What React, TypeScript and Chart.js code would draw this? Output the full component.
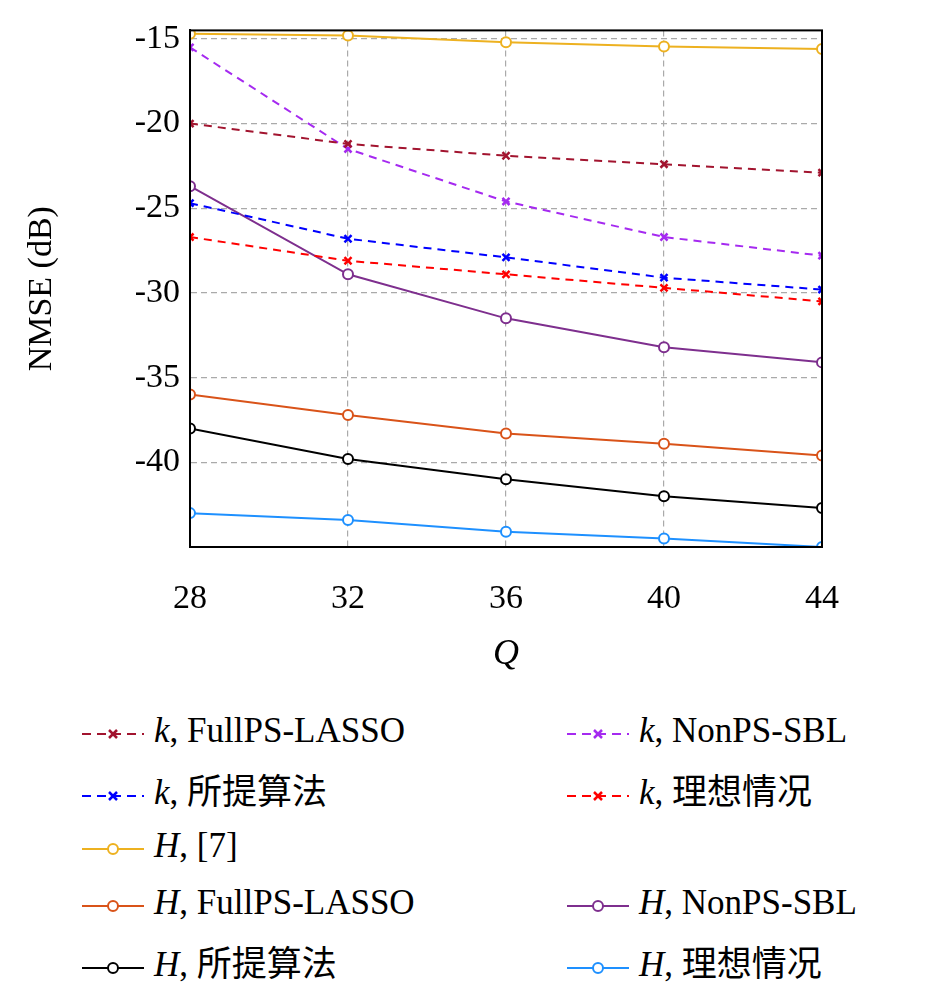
import React, { useEffect, useRef } from "react";
import { Chart, registerables } from "chart.js";
Chart.register(...registerables);

const qValues = [28, 32, 36, 40, 44];
const yTicks = [-15, -20, -25, -30, -35, -40];
const kFullPS = [-20.0, -21.2, -21.9, -22.4, -22.9];
const kNonPS = [-15.5, -21.5, -24.6, -26.7, -27.8];
const kProposed = [-24.7, -26.8, -27.9, -29.1, -29.8];
const kIdeal = [-26.7, -28.1, -28.9, -29.7, -30.5];
const hRef7 = [-14.7, -14.8, -15.2, -15.45, -15.6];
const hFullPS = [-36.0, -37.2, -38.3, -38.9, -39.6];
const hNonPS = [-23.7, -28.9, -31.5, -33.2, -34.1];
const hProposed = [-38.0, -39.8, -41.0, -42.0, -42.7];
const hIdeal = [-43.0, -43.4, -44.1, -44.5, -45.0];

type S = { v: string; name: string; data: number[]; color: string; dashed: boolean };
const series: S[] = [
  { v: "k", name: "FullPS-LASSO", data: kFullPS, color: "#A2142F", dashed: true },
  { v: "k", name: "NonPS-SBL", data: kNonPS, color: "#A52AF0", dashed: true },
  { v: "k", name: "所提算法", data: kProposed, color: "#0000FF", dashed: true },
  { v: "k", name: "理想情况", data: kIdeal, color: "#FF0000", dashed: true },
  { v: "H", name: "[7]", data: hRef7, color: "#EDB120", dashed: false },
  { v: "H", name: "FullPS-LASSO", data: hFullPS, color: "#D95319", dashed: false },
  { v: "H", name: "NonPS-SBL", data: hNonPS, color: "#7E2F8E", dashed: false },
  { v: "H", name: "所提算法", data: hProposed, color: "#000000", dashed: false },
  { v: "H", name: "理想情况", data: hIdeal, color: "#1E90FF", dashed: false },
];
const legendRows: (number | null)[][] = [[0, 1], [2, 3], [4, null], [5, 6], [7, 8]];

const FONT = "'Liberation Serif', 'DejaVu Serif', 'Noto Sans CJK SC', serif";

function Marker({ s }: { s: S }) {
  return (
    <svg width="66" height="24" style={{ verticalAlign: "middle" }}>
      <line x1="2" y1="12" x2="64" y2="12" stroke={s.color} strokeWidth="2"
        strokeDasharray={s.dashed ? "9 6" : undefined} />
      {s.dashed ? (
        <g stroke={s.color} strokeWidth="2.5">
          <line x1="29" y1="8" x2="37" y2="16" />
          <line x1="37" y1="8" x2="29" y2="16" />
        </g>
      ) : (
        <circle cx="33" cy="12" r="5" fill="white" stroke={s.color} strokeWidth="2" />
      )}
    </svg>
  );
}

export default function App() {
  const ref = useRef<HTMLCanvasElement>(null);
  useEffect(() => {
    const chart = new Chart(ref.current!, {
      type: "line",
      data: {
        labels: qValues.map(String),
        datasets: series.map((s) => ({
          label: s.v + ", " + s.name,
          data: s.data,
          borderColor: s.color,
          backgroundColor: "white",
          borderWidth: 2,
          borderDash: s.dashed ? [8, 6] : [],
          pointStyle: s.dashed ? "crossRot" : "circle",
          pointRadius: 5,
          pointBorderWidth: s.dashed ? 2.5 : 2,
          tension: 0,
        })),
      },
      options: {
        animation: false,
        responsive: false,
        layout: { padding: { top: -8, right: 123, left: 18, bottom: 0 } },
        plugins: { legend: { display: false }, tooltip: { enabled: false } },
        scales: {
          x: {
            type: "linear",
            min: 28,
            max: 44,
            afterFit: (sc: any) => { sc.height = 133; },
            afterBuildTicks: (sc: any) => { sc.ticks = qValues.map((v) => ({ value: v })); },
            ticks: { color: "#000", font: { family: FONT, size: 34 }, padding: 32 },
            grid: { color: "#aaa", lineWidth: 1.2, drawTicks: false },
            border: { color: "#000", width: 2, dash: [6, 4] },
            title: { display: true, text: "Q", color: "#000", font: { family: FONT, size: 36, style: "italic" }, padding: { top: 0 } },
          },
          y: {
            min: -45,
            max: -14.5,
            afterFit: (sc: any) => { sc.width = 172; },
            afterBuildTicks: (sc: any) => { sc.ticks = yTicks.map((v) => ({ value: v })); },
            ticks: { color: "#000", font: { family: FONT, size: 34 }, padding: 10 },
            grid: { color: "#aaa", lineWidth: 1.2, drawTicks: false },
            border: { color: "#000", width: 2, dash: [6, 4] },
            title: { display: true, text: "NMSE (dB)", color: "#000", font: { family: FONT, size: 34 }, padding: { bottom: 6 } },
          },
        },
      },
      plugins: [
        {
          id: "frame",
          afterDraw(c: any) {
            const { left, right, top, bottom } = c.chartArea;
            const ctx = c.ctx;
            ctx.save();
            ctx.strokeStyle = "#000";
            ctx.lineWidth = 2;
            ctx.setLineDash([]);
            ctx.strokeRect(left, top, right - left, bottom - top);
            ctx.restore();
          },
        },
      ],
    } as any);
    return () => chart.destroy();
  }, []);

  return (
    <div style={{ position: "absolute", left: 0, top: 0, width: 945, height: 989, background: "white", fontFamily: FONT }}>
      <canvas ref={ref} width={945} height={680} />
      <div style={{ position: "absolute", top: 702, left: 80 }}>
        {legendRows.map((row, i) => (
          <div key={i} style={{ display: "flex", height: 57.5, alignItems: "center" }}>
            {row.map((idx, j) => (
              <div key={j} style={{ width: j === 0 ? 485 : 400, fontSize: 35, whiteSpace: "nowrap", color: "#000" }}>
                {idx !== null && (
                  <>
                    <Marker s={series[idx]} />
                    <span style={{ marginLeft: 8 }}>
                      <i>{series[idx].v}</i>, {series[idx].name}
                    </span>
                  </>
                )}
              </div>
            ))}
          </div>
        ))}
      </div>
    </div>
  );
}
